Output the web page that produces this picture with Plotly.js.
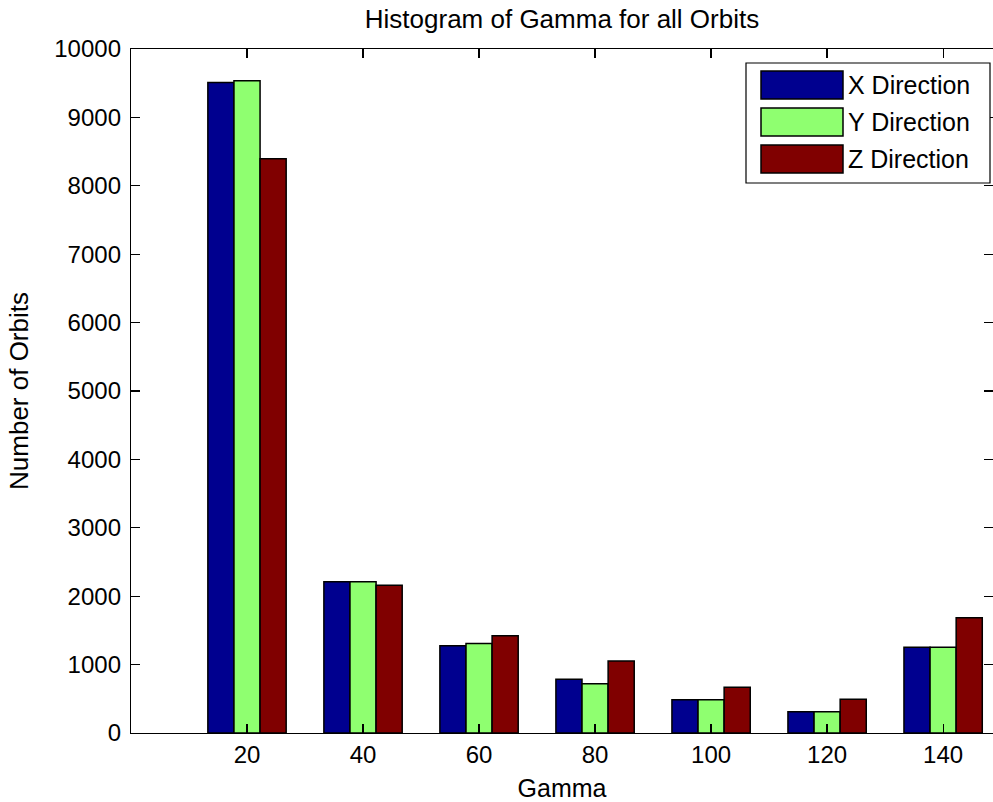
<!DOCTYPE html>
<html>
<head>
<meta charset="utf-8">
<script src="https://cdn.plot.ly/plotly-3.0.1.min.js"></script>
<style>html,body{margin:0;padding:0;background:#fff;}#chart{width:993px;height:802px;}</style>
</head>
<body>
<div id="chart"></div>
<script>
// ---- data ----
const gammaBins = [20, 40, 60, 80, 100, 120, 140];
const seriesNames = ["X Direction", "Y Direction", "Z Direction"];
const xDirection = [9510, 2210, 1275, 785, 487, 312, 1253];
const yDirection = [9535, 2210, 1310, 720, 487, 312, 1253];
const zDirection = [8395, 2160, 1423, 1053, 668, 492, 1686];
const seriesColors = ["#00008F", "#8FFF70", "#800000"];
const yTicks = [0, 1000, 2000, 3000, 4000, 5000, 6000, 7000, 8000, 9000, 10000];

const FONT = "Liberation Sans, Arial, sans-serif";
const W = 993, H = 802;
const M = {l: 131, r: 0, t: 49, b: 69};
const PW = W - M.l - M.r, PH = H - M.t - M.b;
const px2x = p => (p - M.l) / PW;
const py2y = p => (H - M.b - p) / PH;

const values = [xDirection, yDirection, zDirection];
const traces = values.map((v, i) => ({
  type: "bar", x: gammaBins, y: v, name: seriesNames[i],
  marker: {color: seriesColors[i], line: {color: "#000", width: 1.5}},
  showlegend: false, hoverinfo: "x+y+name"
}));

// custom MATLAB-style legend
const shapes = [{
  type: "rect", xref: "paper", yref: "paper",
  x0: px2x(746), x1: px2x(990), y0: py2y(63), y1: py2y(183),
  fillcolor: "#fff", line: {color: "#000", width: 1.2}, layer: "above"
}];
const annotations = [];
const rowTop = [71, 108, 145];
seriesNames.forEach((n, i) => {
  shapes.push({
    type: "rect", xref: "paper", yref: "paper",
    x0: px2x(761), x1: px2x(843), y0: py2y(rowTop[i]), y1: py2y(rowTop[i] + 28),
    fillcolor: seriesColors[i], line: {color: "#000", width: 1.5}, layer: "above"
  });
  annotations.push({
    xref: "paper", yref: "paper", x: px2x(846), y: py2y(rowTop[i] + 14),
    xanchor: "left", yanchor: "middle", text: n, showarrow: false,
    font: {family: FONT, size: 25, color: "#000"}
  });
});

const layout = {
  width: W, height: H, margin: M,
  paper_bgcolor: "#fff", plot_bgcolor: "#fff",
  font: {family: FONT, size: 24, color: "#000"},
  title: {text: "Histogram of Gamma for all Orbits", x: 0.5, xref: "paper", y: 0.977, yanchor: "middle",
          font: {family: FONT, size: 26, color: "#000"}},
  barmode: "group", bargap: 0.325, bargroupgap: 0,
  xaxis: {
    range: [0, 148.6], tickvals: gammaBins, ticktext: gammaBins.map(String),
    showline: true, linecolor: "#000", linewidth: 1.2, mirror: "ticks",
    ticks: "inside", ticklen: 9, tickcolor: "#000", tickwidth: 1.2,
    showgrid: false, zeroline: false,
    title: {text: "Gamma", standoff: 14, font: {family: FONT, size: 25, color: "#000"}},
    tickfont: {family: FONT, size: 24, color: "#000"}
  },
  yaxis: {
    range: [0, 10000], tickvals: yTicks, ticktext: yTicks.map(String),
    showline: true, linecolor: "#000", linewidth: 1.2, mirror: "ticks",
    ticks: "inside", ticklen: 9, tickcolor: "#000", tickwidth: 1.2,
    ticklabelstandoff: 4,
    showgrid: false, zeroline: false,
    title: {text: "Number of Orbits", standoff: 18, font: {family: FONT, size: 26, color: "#000"}},
    tickfont: {family: FONT, size: 24, color: "#000"}
  },
  shapes: shapes, annotations: annotations
};

Plotly.newPlot("chart", traces, layout, {displayModeBar: false, staticPlot: true});
</script>
</body>
</html>
